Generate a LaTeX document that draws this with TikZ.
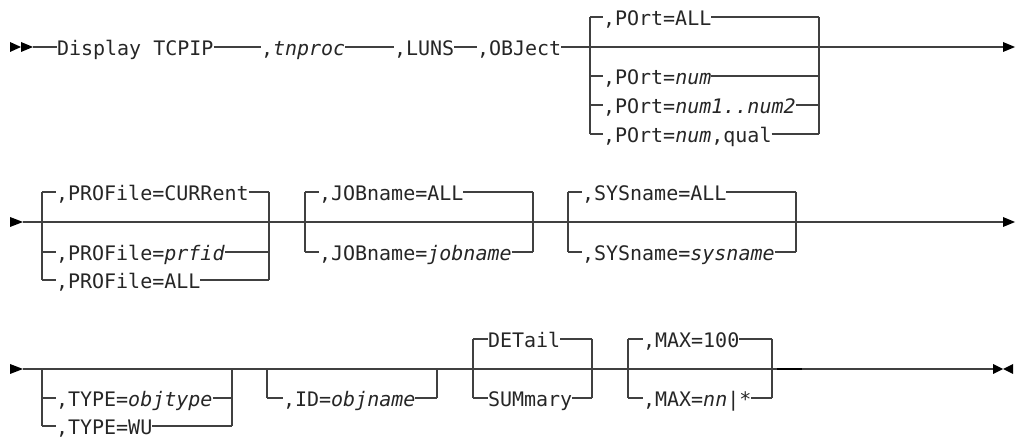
\documentclass[tikz,border=0pt]{standalone}
\usepackage{fontspec}
\setmonofont{DejaVu Sans Mono}
\definecolor{railcol}{gray}{0.25}
\definecolor{txtcol}{gray}{0.15}
\tikzset{
  rail/.style={draw=railcol, line width=1.2pt},
  railbold/.style={draw=black, line width=2pt},
  lbl/.style={anchor=base west, inner sep=0pt, outer sep=0pt, text=txtcol,
              font=\fontsize{20}{20}\selectfont\ttfamily},
  tip/.style={fill=black}
}
\begin{document}
\begin{tikzpicture}[x=1pt,y=-1pt]
\useasboundingbox (0,0) rectangle (1018,438);

% ---------------- Row 1 ----------------
\fill[tip] (10,42) -- (21,47) -- (10,52) -- cycle;
\fill[tip] (21,42) -- (33,47) -- (21,52) -- cycle;
\coordinate (s1) at (33,47);
\coordinate (e1) at (1003,47);
\fill[tip] (1003,42) -- (1015,47) -- (1003,52) -- cycle;

\node[lbl] (disp) at (57,55.5) {Display TCPIP};
\node[lbl] (tnp)  at (261,55.5) {,\textit{tnproc}};
\node[lbl] (luns) at (394,55.5) {,LUNS};
\node[lbl] (obj)  at (477,55.5) {,OBJect};

\draw[rail] (s1) -- (s1 -| disp.west);
\draw[rail] (disp.east |- s1) -- (tnp.west |- s1);
\draw[rail] (tnp.east |- s1) -- (luns.west |- s1);
\draw[rail] (luns.east |- s1) -- (obj.west |- s1);
\draw[rail] (obj.east |- s1) -- (e1);

% POrt block
\coordinate (pl0) at (590,17);  \coordinate (pr0) at (819,17);
\coordinate (pl1) at (590,76);  \coordinate (pr1) at (819,76);
\coordinate (pl2) at (590,105); \coordinate (pr2) at (819,105);
\coordinate (pl3) at (590,134); \coordinate (pr3) at (819,134);
\node[lbl] (p0) at (603,25.5)  {,POrt=ALL};
\node[lbl] (p1) at (603,84.5)  {,POrt=\textit{num}};
\node[lbl] (p2) at (603,113.5) {,POrt=\textit{num1..num2}};
\node[lbl] (p3) at (603,142.5) {,POrt=\textit{num},qual};
\draw[rail] (pl0) -- (pl3);
\draw[rail] (pr0) -- (pr3);
\foreach \i in {0,1,2,3}{
  \draw[rail] (pl\i) -- (pl\i -| p\i.west);
  \draw[rail] (p\i.east |- pr\i) -- (pr\i);
}

% ---------------- Row 2 ----------------
\fill[tip] (10,217) -- (23,222) -- (10,227) -- cycle;
\coordinate (s2) at (23,222);
\coordinate (e2) at (1003,222);
\fill[tip] (1003,217) -- (1015,222) -- (1003,227) -- cycle;
\draw[rail] (s2) -- (e2);

% PROFile block
\coordinate (al0) at (42,192);  \coordinate (ar0) at (269,192);
\coordinate (al1) at (42,252);  \coordinate (ar1) at (269,252);
\coordinate (al2) at (42,280);  \coordinate (ar2) at (269,280);
\node[lbl] (a0) at (56,200.5) {,PROFile=CURRent};
\node[lbl] (a1) at (56,260.5) {,PROFile=\textit{prfid}};
\node[lbl] (a2) at (56,288.5) {,PROFile=ALL};
\draw[rail] (al0) -- (al2);
\draw[rail] (ar0) -- (ar2);
\foreach \i in {0,1,2}{
  \draw[rail] (al\i) -- (al\i -| a\i.west);
  \draw[rail] (a\i.east |- ar\i) -- (ar\i);
}

% JOBname block
\coordinate (bl0) at (305,192);  \coordinate (br0) at (533,192);
\coordinate (bl1) at (305,252);  \coordinate (br1) at (533,252);
\node[lbl] (b0) at (319,200.5) {,JOBname=ALL};
\node[lbl] (b1) at (319,260.5) {,JOBname=\textit{jobname}};
\draw[rail] (bl0) -- (bl1);
\draw[rail] (br0) -- (br1);
\foreach \i in {0,1}{
  \draw[rail] (bl\i) -- (bl\i -| b\i.west);
  \draw[rail] (b\i.east |- br\i) -- (br\i);
}

% SYSname block
\coordinate (cl0) at (568,192);  \coordinate (cr0) at (796,192);
\coordinate (cl1) at (568,252);  \coordinate (cr1) at (796,252);
\node[lbl] (c0) at (582,200.5) {,SYSname=ALL};
\node[lbl] (c1) at (582,260.5) {,SYSname=\textit{sysname}};
\draw[rail] (cl0) -- (cl1);
\draw[rail] (cr0) -- (cr1);
\foreach \i in {0,1}{
  \draw[rail] (cl\i) -- (cl\i -| c\i.west);
  \draw[rail] (c\i.east |- cr\i) -- (cr\i);
}

% ---------------- Row 3 ----------------
\fill[tip] (10,364) -- (23,369) -- (10,374) -- cycle;
\coordinate (s3) at (23,369);
\coordinate (e3) at (993,369);
\fill[tip] (993,364) -- (1003,369) -- (993,374) -- cycle;
\fill[tip] (1013,364) -- (1003,369) -- (1013,374) -- cycle;
\draw[rail] (s3) -- (e3);
\coordinate (k0) at (777,369);
\coordinate (k1) at (802,369);
\draw[railbold] (k0) -- (k1);

% TYPE block
\coordinate (dl0) at (42,369);  \coordinate (dr0) at (232,369);
\coordinate (dl1) at (42,398);  \coordinate (dr1) at (232,398);
\coordinate (dl2) at (42,426);  \coordinate (dr2) at (232,426);
\node[lbl] (d1) at (56,406.5) {,TYPE=\textit{objtype}};
\node[lbl] (d2) at (56,434.5) {,TYPE=WU};
\draw[rail] (dl0) -- (dl2);
\draw[rail] (dr0) -- (dr2);
\foreach \i in {1,2}{
  \draw[rail] (dl\i) -- (dl\i -| d\i.west);
  \draw[rail] (d\i.east |- dr\i) -- (dr\i);
}

% ID block
\coordinate (fl0) at (267,369);  \coordinate (fr0) at (437,369);
\coordinate (fl1) at (267,398);  \coordinate (fr1) at (437,398);
\node[lbl] (f1) at (283,406.5) {,ID=\textit{objname}};
\draw[rail] (fl0) -- (fl1);
\draw[rail] (fr0) -- (fr1);
\draw[rail] (fl1) -- (fl1 -| f1.west);
\draw[rail] (f1.east |- fr1) -- (fr1);

% DETail block
\coordinate (gl0) at (473,339);  \coordinate (gr0) at (592,339);
\coordinate (gl1) at (473,398);  \coordinate (gr1) at (592,398);
\node[lbl] (g0) at (488,347.5) {DETail};
\node[lbl] (g1) at (488,406.5) {SUMmary};
\draw[rail] (gl0) -- (gl1);
\draw[rail] (gr0) -- (gr1);
\foreach \i in {0,1}{
  \draw[rail] (gl\i) -- (gl\i -| g\i.west);
  \draw[rail] (g\i.east |- gr\i) -- (gr\i);
}

% MAX block
\coordinate (hl0) at (628,339);  \coordinate (hr0) at (772,339);
\coordinate (hl1) at (628,398);  \coordinate (hr1) at (772,398);
\node[lbl] (h0) at (643,347.5) {,MAX=100};
\node[lbl] (h1) at (643,406.5) {,MAX=\textit{nn}|*};
\draw[rail] (hl0) -- (hl1);
\draw[rail] (hr0) -- (hr1);
\foreach \i in {0,1}{
  \draw[rail] (hl\i) -- (hl\i -| h\i.west);
  \draw[rail] (h\i.east |- hr\i) -- (hr\i);
}
\end{tikzpicture}
\end{document}
